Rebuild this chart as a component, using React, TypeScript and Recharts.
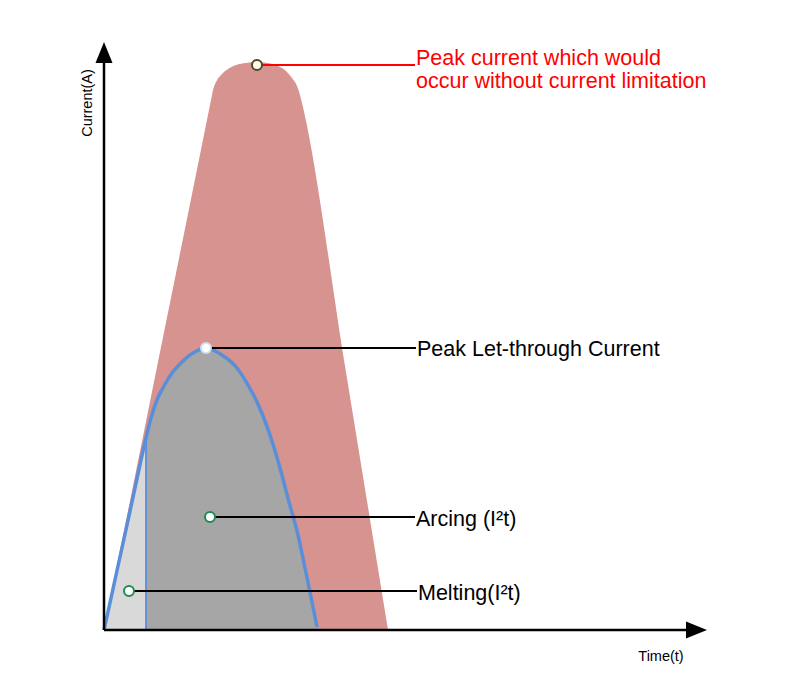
import {
  ComposedChart,
  Area,
  Line,
  XAxis,
  YAxis,
  ReferenceLine,
  ReferenceDot,
} from "recharts";

// prospective (unlimited) current, time vs current in arbitrary units
const prospective = [
  { t: 0, i: 0 },
  { t: 54, i: 268 },
  { t: 108, i: 535 },
  { t: 109, i: 540 },
  { t: 112, i: 548 },
  { t: 117, i: 555 },
  { t: 124, i: 561 },
  { t: 132, i: 565 },
  { t: 142, i: 567 },
  { t: 153, i: 568 },
  { t: 164, i: 567 },
  { t: 174, i: 564 },
  { t: 182, i: 559 },
  { t: 188, i: 552 },
  { t: 193, i: 544 },
  { t: 196, i: 535 },
  { t: 198, i: 527 },
  { t: 241, i: 264 },
  { t: 284, i: 0 },
];

// let-through current, melting part
const melting = [
  { t: 0, i: 0 },
  { t: 14, i: 64 },
  { t: 28, i: 128 },
  { t: 42, i: 192 },
];

// let-through current, arcing part
const arcing = [
  { t: 42, i: 192 },
  { t: 47, i: 212 },
  { t: 53, i: 230 },
  { t: 60, i: 244 },
  { t: 68, i: 257 },
  { t: 78, i: 268 },
  { t: 89, i: 277 },
  { t: 102, i: 282 },
  { t: 118, i: 275 },
  { t: 133, i: 262 },
  { t: 144, i: 245 },
  { t: 153, i: 228 },
  { t: 166, i: 195 },
  { t: 176, i: 162 },
  { t: 185, i: 128 },
  { t: 194, i: 95 },
  { t: 201, i: 62 },
  { t: 208, i: 28 },
  { t: 213, i: 3 },
];

const letThrough = [...melting, ...arcing.slice(1)];
const meltEnd = [
  { t: 42, i: 0 },
  { t: 42, i: 192 },
];

const notes = [
  {
    lines: ["Peak current which would", "occur without current limitation"],
    t: 153,
    i: 565,
    end: 311,
    color: "#ff0000",
    dotFill: "#fffbe6",
    dotStroke: "#4d4a2e",
    dy: 0,
  },
  {
    lines: ["Peak Let-through Current"],
    t: 102,
    i: 282,
    end: 312,
    color: "#000000",
    dotFill: "#ffffff",
    dotStroke: "#cfe0f5",
    dy: 8,
  },
  {
    lines: ["Arcing (I²t)"],
    t: 106,
    i: 113,
    end: 311,
    color: "#000000",
    dotFill: "#ffffff",
    dotStroke: "#1e8a50",
    dy: 9,
  },
  {
    lines: ["Melting(I²t)"],
    t: 25,
    i: 39,
    end: 313,
    color: "#000000",
    dotFill: "#ffffff",
    dotStroke: "#1e8a50",
    dy: 9,
  },
];

const FONT = '"Liberation Sans", Arial, sans-serif';

function Arrow(props: any) {
  const { x1, y1, x2, y2, label, vertical } = props;
  const len = 21;
  const half = 8.5;
  if (vertical) {
    return (
      <g>
        <line x1={x1} y1={y1} x2={x2} y2={y2 + len - 2} stroke="#000" strokeWidth={2.5} />
        <polygon
          points={`${x2},${y2} ${x2 - half},${y2 + len} ${x2 + half},${y2 + len}`}
          fill="#000"
        />
        <text
          x={x1 - 12}
          y={y2 + 61}
          textAnchor="middle"
          fontSize={14.5}
          fontFamily={FONT}
          fill="#000"
          transform={`rotate(-90, ${x1 - 12}, ${y2 + 61})`}
        >
          {label}
        </text>
      </g>
    );
  }
  return (
    <g>
      <line x1={x1} y1={y1} x2={x2 - len + 2} y2={y2} stroke="#000" strokeWidth={2.5} />
      <polygon
        points={`${x2},${y2} ${x2 - len},${y2 - half} ${x2 - len},${y2 + half}`}
        fill="#000"
      />
      <text
        x={x2 - 46}
        y={y2 + 31}
        textAnchor="middle"
        fontSize={14.5}
        fontFamily={FONT}
        fill="#000"
      >
        {label}
      </text>
    </g>
  );
}

function Leader(props: any) {
  const { x1, y1, x2, y2, lines, color, dy } = props;
  return (
    <g>
      <line x1={x1} y1={y1} x2={x2} y2={y2} stroke={color} strokeWidth={2} />
      <text x={x2 + 1} y={y2 + dy} fill={color} fontSize={21.5} fontFamily={FONT}>
        {lines.map((s: string, k: number) => (
          <tspan key={k} x={x2 + 1} dy={k === 0 ? 0 : 23}>
            {s}
          </tspan>
        ))}
      </text>
    </g>
  );
}

export default function App() {
  return (
    <div style={{ position: "absolute", left: 0, top: 0, background: "#fff" }}>
      <ComposedChart
        width={792}
        height={673}
        margin={{ top: 40, right: 78, bottom: 43, left: 104 }}
      >
        <XAxis type="number" dataKey="t" domain={[0, 610]} hide />
        <YAxis type="number" dataKey="i" domain={[0, 590]} hide />
        <Area
          data={prospective}
          dataKey="i"
          type="monotone"
          fill="#d69390"
          fillOpacity={1}
          stroke="none"
          isAnimationActive={false}
        />
        <Area
          data={melting}
          dataKey="i"
          type="monotone"
          fill="#d9d9d9"
          fillOpacity={1}
          stroke="none"
          isAnimationActive={false}
        />
        <Area
          data={arcing}
          dataKey="i"
          type="monotone"
          fill="#a6a6a6"
          fillOpacity={1}
          stroke="none"
          isAnimationActive={false}
        />
        <Line
          data={meltEnd}
          dataKey="i"
          type="linear"
          stroke="#5a8ed8"
          strokeWidth={1.8}
          dot={false}
          isAnimationActive={false}
        />
        <Line
          data={letThrough}
          dataKey="i"
          type="monotone"
          stroke="#5a8ed8"
          strokeWidth={3.5}
          dot={false}
          isAnimationActive={false}
        />
        <ReferenceLine
          segment={[
            { x: 0, y: 0 },
            { x: 603, y: 0 },
          ]}
          ifOverflow="visible"
          shape={(p: any) => <Arrow {...p} label="Time(t)" />}
        />
        <ReferenceLine
          segment={[
            { x: 0, y: 0 },
            { x: 0, y: 588 },
          ]}
          ifOverflow="visible"
          shape={(p: any) => <Arrow {...p} label="Current(A)" vertical />}
        />
        {notes.map((n, k) => (
          <ReferenceLine
            key={`l${k}`}
            segment={[
              { x: n.t, y: n.i },
              { x: n.end, y: n.i },
            ]}
            ifOverflow="visible"
            shape={(p: any) => (
              <Leader {...p} lines={n.lines} color={n.color} dy={n.dy} />
            )}
          />
        ))}
        {notes.map((n, k) => (
          <ReferenceDot
            key={`d${k}`}
            x={n.t}
            y={n.i}
            r={5}
            fill={n.dotFill}
            stroke={n.dotStroke}
            strokeWidth={2}
            ifOverflow="visible"
          />
        ))}
      </ComposedChart>
    </div>
  );
}
